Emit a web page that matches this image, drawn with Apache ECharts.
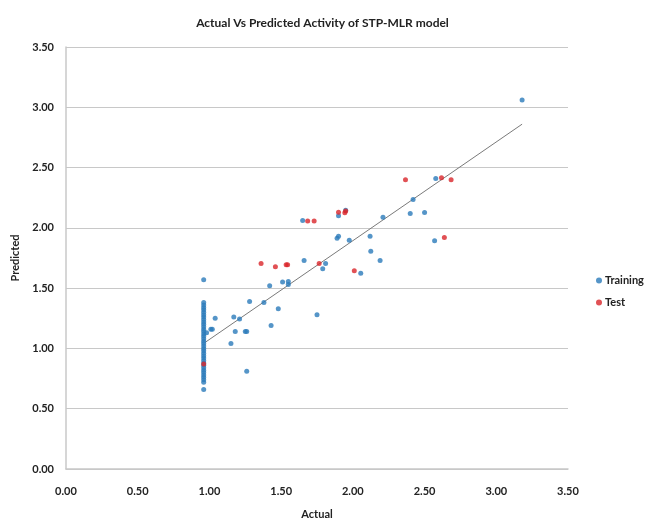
<!DOCTYPE html>
<html>
<head>
<meta charset="utf-8">
<script src="https://cdn.jsdelivr.net/npm/echarts@6/dist/echarts.min.js"></script>
<style>
  html, body { margin: 0; padding: 0; background: #fff; }
  #chart { width: 645px; height: 525px; }
</style>
</head>
<body>
<div id="chart"></div>
<script>
const TITLE = "Actual Vs Predicted Activity of STP-MLR model";
const AXIS_TICKS = [0, 0.5, 1, 1.5, 2, 2.5, 3, 3.5];

// training set: the vertical column of compounds at actual ~0.96
const TRAIN_COLUMN_X = 0.96;
const TRAIN_COLUMN_Y = [
  0.66, 0.72, 0.74, 0.76, 0.78, 0.80, 0.82, 0.84, 0.86, 0.88, 0.90, 0.92,
  0.94, 0.96, 0.98, 1.00, 1.02, 1.04, 1.06, 1.08, 1.10, 1.12, 1.14, 1.16,
  1.18, 1.20, 1.22, 1.24, 1.26, 1.28, 1.30, 1.32, 1.34, 1.36, 1.38, 1.57
];

// remaining training compounds [actual, predicted]
const TRAIN_POINTS = [
  [0.98, 1.13], [1.01, 1.16], [1.02, 1.16], [1.04, 1.25], [1.15, 1.04],
  [1.17, 1.26], [1.21, 1.245], [1.18, 1.14], [1.25, 1.14], [1.26, 1.14],
  [1.26, 0.81], [1.28, 1.39], [1.38, 1.38], [1.43, 1.19], [1.48, 1.33],
  [1.42, 1.52], [1.51, 1.55], [1.55, 1.555], [1.55, 1.53], [1.66, 1.73],
  [1.65, 2.06], [1.75, 1.28], [1.79, 1.66], [1.81, 1.705], [1.89, 1.914],
  [1.90, 1.93], [1.90, 2.10], [1.95, 2.147], [1.975, 1.898], [2.12, 1.93],
  [2.125, 1.806], [2.055, 1.623], [2.19, 1.73], [2.21, 2.087], [2.42, 2.235],
  [2.40, 2.12], [2.50, 2.128], [2.578, 2.41], [2.57, 1.893], [3.18, 3.06]
];

// test set [actual, predicted]
const TEST_POINTS = [
  [0.96, 0.87], [1.36, 1.705], [1.46, 1.678], [1.535, 1.695], [1.545, 1.695],
  [1.685, 2.057], [1.73, 2.057], [1.765, 1.705], [1.90, 2.13], [1.944, 2.125],
  [1.95, 2.14], [2.01, 1.645], [2.367, 2.40], [2.618, 2.415], [2.685, 2.40],
  [2.638, 1.92]
];

// fitted line end points [actual, predicted]
const TREND_LINE = [[0.97, 1.05], [3.18, 2.86]];

const trainData = TRAIN_COLUMN_Y.map(y => [TRAIN_COLUMN_X, y]).concat(TRAIN_POINTS);

const labelFont = { fontFamily: "Lato", fontWeight: "bold", fontSize: 11, color: "#222" };

const chart = echarts.init(document.getElementById("chart"));

chart.setOption({
  animation: false,
  backgroundColor: "#fff",
  title: {
    text: TITLE,
    left: "center",
    top: 12,
    textStyle: { fontFamily: "Lato", fontWeight: "bold", fontSize: 12, color: "#222" }
  },
  legend: {
    orient: "vertical",
    left: 591,
    top: 270,
    itemWidth: 6,
    itemHeight: 6,
    itemGap: 11,
    data: ["Training", "Test"],
    textStyle: { fontFamily: "Lato", fontWeight: "bold", fontSize: 11, color: "#222", padding: [0, 0, 0, -2] }
  },
  grid: { left: 66, right: 77, top: 47, bottom: 52 },
  xAxis: {
    type: "value",
    min: 0,
    max: 3.5,
    interval: 0.5,
    name: "Actual",
    nameLocation: "middle",
    nameGap: 40,
    nameTextStyle: labelFont,
    axisLine: { show: true, lineStyle: { color: "#c8c8c8", width: 1.5 } },
    axisTick: { show: false },
    splitLine: { show: false },
    axisLabel: Object.assign({ margin: 17, formatter: v => v.toFixed(2) }, labelFont)
  },
  yAxis: {
    type: "value",
    min: 0,
    max: 3.5,
    interval: 0.5,
    name: "Predicted",
    nameLocation: "middle",
    nameGap: 44,
    nameTextStyle: labelFont,
    axisLine: { show: true, lineStyle: { color: "#c8c8c8", width: 1.5 } },
    axisTick: { show: false },
    splitLine: { show: true, lineStyle: { color: "#c8c8c8", width: 1.2 } },
    axisLabel: Object.assign({ margin: 12, formatter: v => v.toFixed(2) }, labelFont)
  },
  series: [
    {
      name: "Trend",
      type: "line",
      data: TREND_LINE,
      symbol: "none",
      silent: true,
      lineStyle: { color: "#7a7a7a", width: 1 },
      z: 1
    },
    {
      name: "Training",
      type: "scatter",
      data: trainData,
      symbolSize: 5,
      itemStyle: { color: "#2b7bba" },
      z: 2
    },
    {
      name: "Test",
      type: "scatter",
      data: TEST_POINTS,
      symbolSize: 5,
      itemStyle: { color: "#d9262a" },
      z: 3
    }
  ]
});
</script>
</body>
</html>
